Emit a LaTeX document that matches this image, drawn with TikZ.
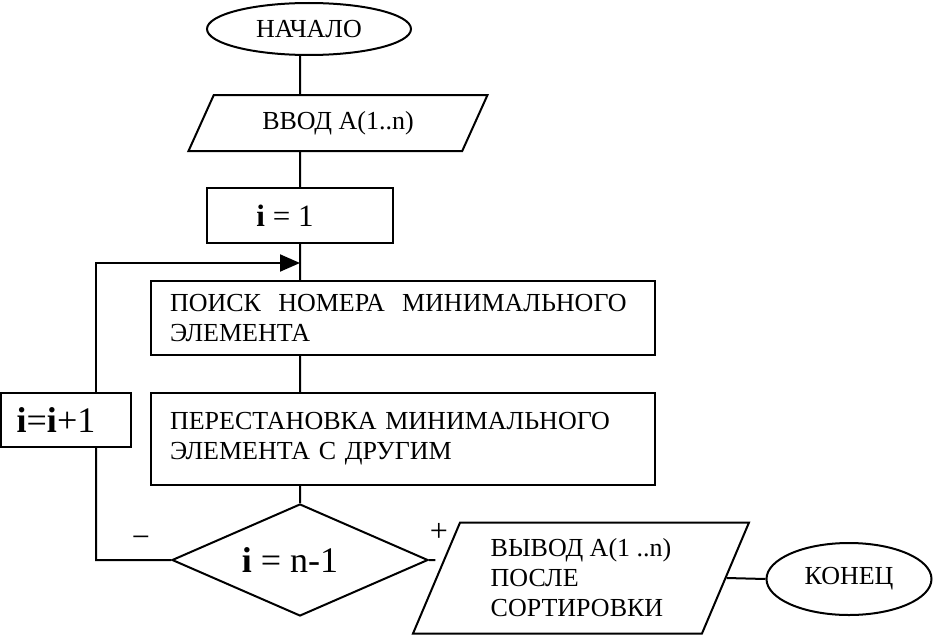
\documentclass[tikz,border=0pt]{standalone}
\usepackage{fontspec}
\setmainfont{Liberation Serif}
\usepackage{tikz}
\usetikzlibrary{shapes.geometric, arrows.meta}

\tikzset{
    base/.style={draw, line width=2pt, inner sep=0pt, font=\fontsize{26pt}{30pt}\selectfont},
    term/.style={base, ellipse},
    box/.style={base, rectangle},
    io/.style={base, trapezium, trapezium stretches body},
    cond/.style={base, diamond, aspect=2.3},
    big/.style={font=\fontsize{36pt}{36pt}\selectfont},
    sign/.style={font=\fontsize{32pt}{32pt}\selectfont},
}

\begin{document}
\begin{tikzpicture}[x=1pt, y=-1pt, line width=2pt]
    \useasboundingbox (0,0) rectangle (936,642);

    \node[term, minimum width=204pt, minimum height=52pt] (start) at (309,29) {НАЧАЛО};
    \node[io, trapezium left angle=43, trapezium right angle=137, minimum width=299pt, minimum height=56pt] (in) at (338,123) {ВВОД А(1..n)};
    \node[box, minimum width=186pt, minimum height=55pt, font=\fontsize{31pt}{31pt}\selectfont] (init) at (300,215.5) {\textbf{i} = 1\hspace*{30pt}};
    \node[box, minimum width=504pt, minimum height=74pt, text width=466pt, align=left] (find) at (403,318) {ПОИСК\ \ НОМЕРА\ \ МИНИМАЛЬНОГО\\ЭЛЕМЕНТА};
    \node[box, minimum width=504pt, minimum height=92pt, text width=466pt, align=left] (swap) at (403,439) {ПЕРЕСТАНОВКА МИНИМАЛЬНОГО\\ЭЛЕМЕНТА С ДРУГИМ};
    \node[box, big, minimum width=130pt, minimum height=54pt] (incr) at (66,420) {\textbf{i}=\textbf{i}+1\hspace*{20pt}};
    \node[cond, big, minimum width=256pt, minimum height=112pt] (check) at (300,560) {\textbf{i} = n-1\hspace*{20pt}};
    \node[io, trapezium left angle=59, trapezium right angle=121, minimum width=336pt, minimum height=111pt, align=left] (out) at (581,578) {ВЫВОД А(1 ..n)\\ПОСЛЕ\\СОРТИРОВКИ};
    \node[term, minimum width=165pt, minimum height=72pt] (stop) at (849,579) {КОНЕЦ};

    \node[sign] (plus) at (439,532) {+};
    \node[sign] (minus) at (141,542) {−};

    \coordinate (join) at (300,263);
    \coordinate (back) at (96,0);

    \draw
        (start.south -| join) -- (in.north -| join)
        (in.south -| join) -- (init.north)
        (init.south) -- (find.north -| join)
        (find.south -| join) -- (swap.north -| join)
        (swap.south -| join) -- (check.north)
        (check.east) -- (check.east -| out.west)
        (out.east) -- (stop.west)
        (check.west) -| (back |- incr.south)
        ;
    \draw[-{Triangle[length=20pt, width=17pt]}] (back |- incr.north) |- (join);
\end{tikzpicture}
\end{document}
